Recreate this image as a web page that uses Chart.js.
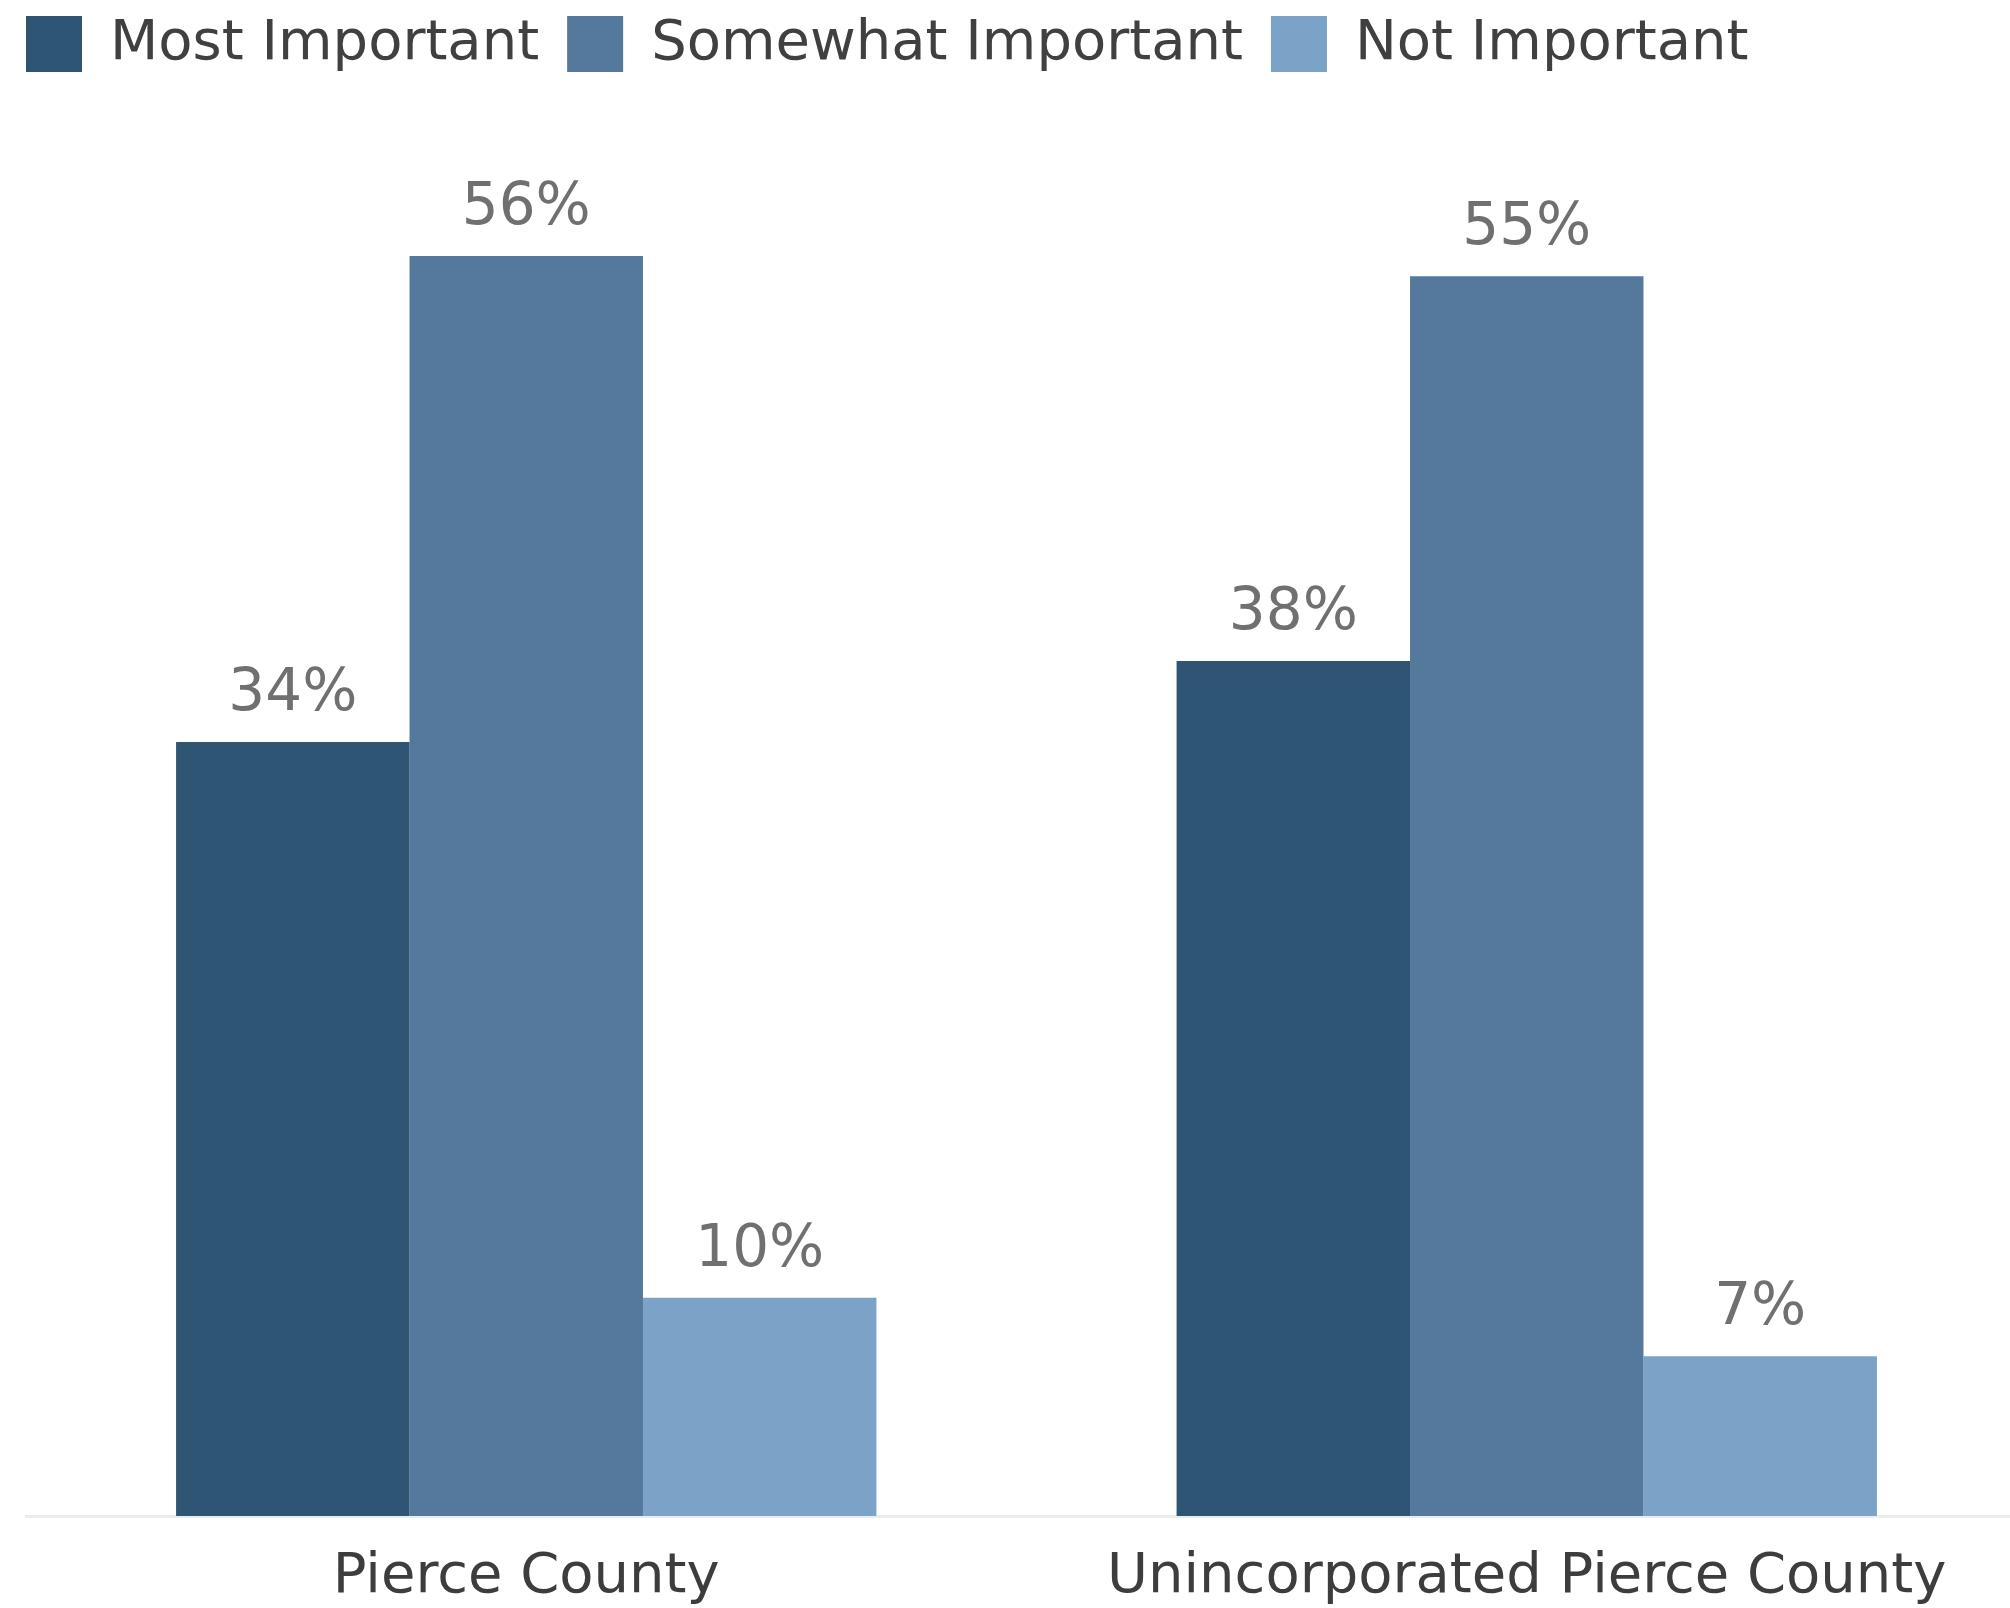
<!DOCTYPE html>
<html>
<head>
<meta charset="utf-8">
<script src="https://cdn.jsdelivr.net/npm/chart.js@4/dist/chart.umd.min.js"></script>
<style>
  html, body { margin: 0; padding: 0; background: #ffffff; overflow: hidden; width: 2010px; height: 1608px; }
  canvas { display: block; }
</style>
</head>
<body>
<canvas id="c" width="2040" height="1608"></canvas>
<script>
const categories = ['Pierce County', 'Unincorporated Pierce County'];
const seriesNames = ['Most Important', 'Somewhat Important', 'Not Important'];
const mostImportant = [34.4, 38.0];
const somewhatImportant = [56.0, 55.1];
const notImportant = [9.7, 7.1];
const yTicks = [0, 60];

const colors = ['#2F5574', '#54799D', '#7BA2C7'];
const FONT = "'DejaVu Sans', Verdana, sans-serif";

const legendFix = {
  id: 'legendFix',
  beforeLayout(chart) {
    const lg = chart.legend;
    if (lg && !lg._fitWrapped) {
      const orig = lg.fit.bind(lg);
      lg.fit = function () { orig(); this.height = 166; };
      lg._fitWrapped = true;
    }
  },
  afterLayout(chart) {
    const lg = chart.legend;
    if (!lg) return;
    const h = lg.height, w = lg.width;
    lg.left = -2; lg.right = lg.left + w;
    lg.top = -12; lg.bottom = lg.top + h;
  }
};

const valueLabels = {
  id: 'valueLabels',
  afterDatasetsDraw(chart) {
    const ctx = chart.ctx;
    ctx.save();
    ctx.font = "58px " + FONT;
    ctx.fillStyle = '#707070';
    ctx.textAlign = 'center';
    ctx.textBaseline = 'alphabetic';
    chart.data.datasets.forEach((ds, i) => {
      const meta = chart.getDatasetMeta(i);
      meta.data.forEach((bar, j) => {
        ctx.fillText(Math.round(ds.data[j]) + '%', bar.x, bar.y - 32);
      });
    });
    ctx.restore();
  }
};

new Chart(document.getElementById('c'), {
  type: 'bar',
  data: {
    labels: categories,
    datasets: [
      { label: seriesNames[0], data: mostImportant, backgroundColor: colors[0] },
      { label: seriesNames[1], data: somewhatImportant, backgroundColor: colors[1] },
      { label: seriesNames[2], data: notImportant, backgroundColor: colors[2] }
    ]
  },
  options: {
    responsive: false,
    animation: false,
    devicePixelRatio: 1,
    layout: { padding: { top: 0, left: 26, right: 13, bottom: 0 } },
    datasets: { bar: { categoryPercentage: 0.7, barPercentage: 1.0, borderWidth: 0 } },
    plugins: {
      legend: {
        position: 'top',
        align: 'start',
        labels: {
          boxWidth: 56,
          boxHeight: 56,
          padding: 28,
          color: '#404040',
          font: { family: FONT, size: 56 }
        }
      },
      tooltip: { enabled: false }
    },
    scales: {
      x: {
        grid: { display: false },
        border: { display: true, color: '#ececec', width: 3 },
        ticks: { color: '#3d3d3d', padding: 20, font: { family: FONT, size: 56 } },
        afterFit(scale) { scale.height = 92; }
      },
      y: {
        display: false,
        min: yTicks[0],
        max: yTicks[1]
      }
    }
  },
  plugins: [legendFix, valueLabels]
});
</script>
</body>
</html>
